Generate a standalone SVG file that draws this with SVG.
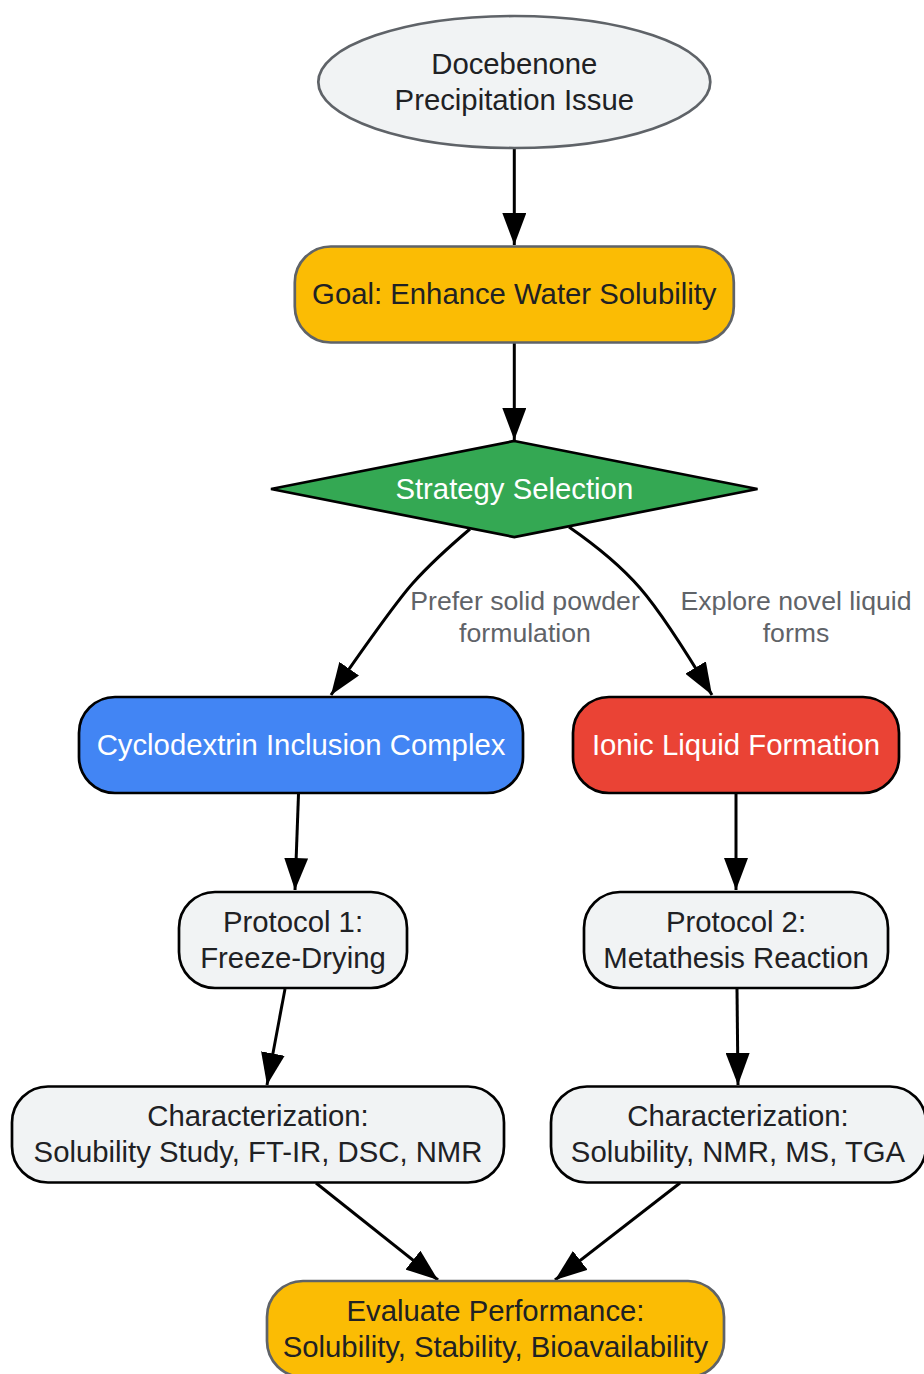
<svg xmlns="http://www.w3.org/2000/svg" width="924" height="1374" viewBox="0 0 924 1374">
<style>
text{font-family:"Liberation Sans",Arial,sans-serif;font-size:29.3px;text-anchor:middle;fill:#202124}
.w{fill:#fff}
.l{fill:#5f6368;font-size:26.65px}
.g{stroke:#5f6368;stroke-width:2.7}
.b{stroke:#000;stroke-width:2.7}
.c path{fill:none;stroke:#000;stroke-width:3;marker-end:url(#a)}
</style>
<defs><marker id="a" markerUnits="userSpaceOnUse" markerWidth="32" markerHeight="24" refX="32" refY="12" orient="auto"><path d="M0 0L32 12L0 24Z" fill="#000" style="stroke:none;marker-end:none"/></marker></defs>
<rect width="924" height="1374" fill="#fff"/>
<g id="connectors" class="c">
<path d="M514.300 148V245"/>
<path d="M514.300 343V440"/>
<path d="M470 529C450 546 430 564 413 583C396 602 358 656 331 695"/>
<path d="M569 527C595 545 620 565 640 588C660 611 688 655 712 695"/>
<path d="M298.500 794L295 890"/>
<path d="M736 794V890"/>
<path d="M285 989L267 1085"/>
<path d="M737 989L738 1085"/>
<path d="M316 1183L438 1280"/>
<path d="M680 1183L555 1280"/>
</g>
<g id="n1"><ellipse cx="514.300" cy="82" rx="196" ry="66" fill="#f1f3f4" class="g"/><text x="514.300" y="74">Docebenone</text><text x="514.300" y="110">Precipitation Issue</text></g>
<g id="n2"><rect x="294.800" y="246.500" width="439" height="96" rx="36" fill="#fbbc04" class="g"/><text x="514.300" y="304">Goal: Enhance Water Solubility</text></g>
<g id="n3"><polygon points="514.300,441 757.500,489 514.300,537 271,489" fill="#34a853" class="b"/><text x="514.300" y="499" class="w">Strategy Selection</text></g>
<g id="n4"><rect x="79" y="697" width="444" height="96" rx="36" fill="#4285f4" class="b"/><text x="301" y="755" class="w">Cyclodextrin Inclusion Complex</text></g>
<g id="n5"><rect x="573" y="697" width="326" height="96" rx="36" fill="#ea4335" class="b"/><text x="736" y="755" class="w">Ionic Liquid Formation</text></g>
<g id="n6"><rect x="179" y="892" width="228" height="96" rx="36" fill="#f1f3f4" class="b"/><text x="293" y="932">Protocol 1:</text><text x="293" y="968">Freeze-Drying</text></g>
<g id="n7"><rect x="584" y="892" width="304" height="96" rx="36" fill="#f1f3f4" class="b"/><text x="736" y="932">Protocol 2:</text><text x="736" y="968">Metathesis Reaction</text></g>
<g id="n8"><rect x="12" y="1086.500" width="492" height="96" rx="36" fill="#f1f3f4" class="b"/><text x="258" y="1126">Characterization:</text><text x="258" y="1162">Solubility Study, FT-IR, DSC, NMR</text></g>
<g id="n9"><rect x="551" y="1086.500" width="375" height="96" rx="36" fill="#f1f3f4" class="b"/><text x="738" y="1126">Characterization:</text><text x="738" y="1162">Solubility, NMR, MS, TGA</text></g>
<g id="n10"><rect x="267" y="1281" width="457" height="96" rx="36" fill="#fbbc04" class="g"/><text x="495.500" y="1321">Evaluate Performance:</text><text x="495.500" y="1357">Solubility, Stability, Bioavailability</text></g>
<g id="labels"><text x="525" y="610" class="l">Prefer solid powder</text><text x="525" y="642" class="l">formulation</text><text x="796" y="610" class="l">Explore novel liquid</text><text x="796" y="642" class="l">forms</text></g>
</svg>
